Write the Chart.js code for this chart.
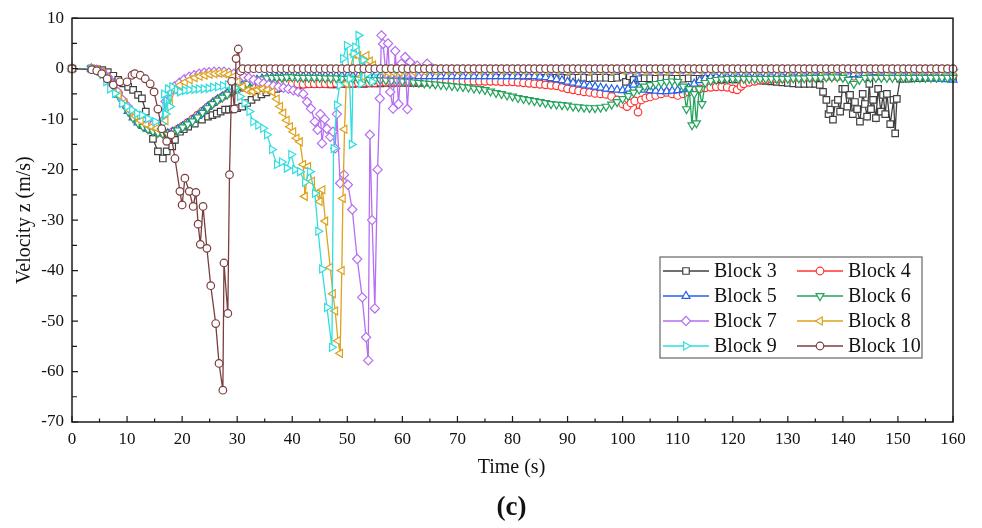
<!DOCTYPE html>
<html>
<head>
<meta charset="utf-8">
<script src="https://cdn.jsdelivr.net/npm/chart.js@4.4.0/dist/chart.umd.min.js"></script>
<style>
  html, body { margin: 0; padding: 0; background: #fff; }
  #wrap { width: 982px; height: 528px; position: relative; }
</style>
</head>
<body>
<div id="wrap"><canvas id="velocityChart"></canvas></div>
<script>
// Velocity z of each block, [time (s), velocity (m/s)]
var block3 = [[0,0],[3.5,0],[4.5,-0.1],[5.5,-0.3],[6.5,-0.7],[7.5,-1.4],[8.4,-2.2],[9.3,-2.9],[10.2,-3.6],[11.1,-4.2],[12,-5.2],[12.7,-5.9],[13.4,-8.5],[14.1,-11.8],[14.7,-13.9],[15.6,-16.4],[16.5,-17.8],[17.2,-16.4],[18.2,-15.4],[18.7,-14.1],[19.6,-12.5],[20.3,-12],[21.1,-11.5],[22.3,-10.9],[23.6,-10.1],[24.7,-9.5],[25.5,-9.2],[26.3,-8.9],[27,-8.5],[27.8,-8.1],[28.5,-8.1],[29.2,-8],[30,-7.8],[30.9,-7.5],[31.8,-6.8],[32.6,-6.2],[33.5,-5.6],[34.4,-5.1],[35.3,-4.7],[36.2,-4.3],[37.1,-4],[38,-3.8],[39,-3.6],[40,-3.4],[41,-3.3],[42,-3.1],[43,-3],[44,-3],[45,-3],[46,-3],[47,-3.1],[48,-3.1],[49,-3],[50,-3],[51,-3],[52,-2.9],[53,-3],[54,-2.9],[55,-2.9],[56,-2.9],[57,-2.8],[58,-2.9],[59,-2.8],[60,-2.8],[61,-2.8],[62,-2.8],[63,-2.8],[64,-2.7],[65,-2.7],[66,-2.6],[67,-2.5],[68,-2.4],[69,-2.3],[70,-2.3],[71,-2.2],[72,-2.1],[73,-2],[74,-2],[75,-1.9],[76,-1.9],[77,-1.8],[78,-1.8],[79,-1.8],[80,-1.8],[81,-1.8],[82,-1.9],[83,-1.8],[84,-1.8],[85,-1.8],[86,-1.9],[87,-1.8],[88,-1.8],[89,-1.8],[90,-1.9],[91,-1.8],[92,-1.8],[93,-1.8],[94,-1.9],[95,-1.8],[96,-1.8],[97,-1.8],[98,-1.9],[99,-1.8],[100,-1.6],[100.6,-2.6],[101.3,-1.5],[102,-2.2],[103,-1.9],[104,-1.9],[105,-1.9],[106,-2],[107,-1.9],[108,-1.9],[109,-2],[110,-2],[111,-2],[112,-1.9],[113,-2],[114,-2],[115,-2],[116,-2],[117,-2],[118,-2.1],[119,-2],[120,-2.1],[121,-2.1],[122,-2.2],[123,-2.2],[124,-2.2],[125,-2.3],[126,-2.4],[127,-2.5],[128,-2.6],[129,-2.7],[130,-2.8],[131,-2.9],[132,-3],[133,-3],[134,-3],[135,-3],[135.8,-3.2],[136.4,-4.6],[137,-6.2],[137.4,-9],[137.7,-8.1],[138.2,-10.1],[138.6,-6.9],[139.1,-6.2],[139.5,-8.5],[139.9,-4],[140.4,-4],[140.8,-7.5],[141.3,-5.2],[141.8,-9],[142.2,-6.6],[142.6,-8],[143.1,-10.5],[143.6,-5],[144,-7],[144.4,-9.5],[144.8,-3],[145.1,-8],[145.5,-6.2],[146,-9.8],[146.4,-4],[146.9,-8.5],[147.3,-5.2],[147.7,-9],[148,-5],[148.6,-11],[149.2,-6.2],[149.5,-12.8],[149.8,-6],[150.4,-2],[151,-2],[152,-2],[153,-1.9],[154,-1.9],[155,-1.8],[156,-1.8],[157,-1.8],[158,-1.7],[159,-1.7],[160,-1.7]];

var block4 = [[0,0],[3.5,0],[4.5,-0.2],[5.5,-0.7],[6.5,-1.7],[7.5,-3.1],[8.4,-4.8],[9.3,-6.5],[10.2,-8],[11.1,-9.4],[12,-10.5],[12.9,-11.3],[13.8,-11.9],[14.7,-12.3],[15.6,-12.6],[16.5,-12.8],[17.4,-12.8],[18.3,-12.5],[19.2,-12],[20.1,-11.4],[21,-10.7],[21.9,-10],[22.8,-9.2],[23.7,-8.4],[24.6,-7.6],[25.5,-6.9],[26.4,-6.2],[27.3,-5.6],[28.2,-5],[29.1,-4.5],[30,-4.1],[31,-3.7],[32,-3.5],[33,-3.3],[34,-3.2],[35,-3.1],[36,-3],[37,-3],[38,-3],[39,-3],[40,-3],[41,-3],[42,-3.1],[43,-3],[44,-3],[45,-3],[46,-3],[47,-3],[48,-2.9],[49,-2.9],[50,-2.9],[51,-2.9],[52,-2.8],[53,-2.8],[54,-2.8],[55,-2.8],[56,-2.7],[57,-2.7],[58,-2.7],[59,-2.7],[60,-2.7],[61,-2.6],[62,-2.6],[63,-2.6],[64,-2.6],[65,-2.5],[66,-2.5],[67,-2.5],[68,-2.5],[69,-2.5],[70,-2.5],[71,-2.5],[72,-2.5],[73,-2.5],[74,-2.5],[75,-2.5],[76,-2.5],[77,-2.5],[78,-2.6],[79,-2.6],[80,-2.6],[81,-2.7],[82,-2.8],[83,-2.9],[84,-3],[85,-3.1],[86,-3.2],[87,-3.3],[88,-3.4],[89,-3.7],[90,-4],[91,-4.2],[92,-4.4],[93,-4.6],[94,-4.7],[95,-4.9],[96,-5],[97,-5.1],[98,-5.5],[99,-6.2],[100,-7],[100.8,-7.5],[101.5,-6.8],[102.2,-6.4],[102.8,-8.6],[103.4,-6.2],[104.2,-5.8],[105,-5.6],[106,-5.3],[107,-5],[108,-4.7],[109,-5],[110,-5.3],[111,-5],[112,-4.6],[113,-4.3],[114,-4],[115,-3.8],[116,-3.7],[117,-3.6],[118,-3.6],[119,-3.7],[120,-4],[120.8,-4.2],[121.5,-3.5],[122,-3],[123,-2.7],[124,-2.5],[125,-2.3],[126,-2.2],[127,-2.1],[128,-2],[129,-1.9],[130,-1.8],[131,-1.8],[132,-1.7],[133,-1.7],[134,-1.7],[135,-1.7],[136,-1.6],[137,-1.6],[138,-1.6],[139,-1.6],[140,-1.6],[141,-1.6],[142,-1.5],[143,-1.5],[144,-1.5],[145,-1.5],[146,-1.5],[147,-1.5],[148,-1.5],[149,-1.5],[150,-1.5],[151,-1.4],[152,-1.4],[153,-1.4],[154,-1.4],[155,-1.4],[156,-1.4],[157,-1.4],[158,-1.4],[159,-1.4],[160,-1.4]];

var block5 = [[0,0],[3.5,0],[4.5,-0.3],[5.5,-0.9],[6.5,-2],[7.5,-3.5],[8.4,-5.2],[9.3,-6.9],[10.2,-8.4],[11.1,-9.7],[12,-10.7],[12.9,-11.4],[13.8,-11.9],[14.7,-12.3],[15.6,-12.6],[16.5,-12.7],[17.4,-12.8],[18.3,-12.5],[19.2,-12],[20.1,-11.4],[21,-10.8],[21.9,-10.2],[22.8,-9.4],[23.7,-8.5],[24.6,-7.6],[25.5,-6.8],[26.4,-6.1],[27.3,-5.5],[28.2,-4.9],[29.1,-4.3],[30,-3.8],[30.9,-3.3],[31.8,-2.9],[32.7,-2.5],[33.6,-2.2],[34.5,-2],[35.4,-1.8],[36.3,-1.7],[37.2,-1.6],[38.1,-1.6],[39,-1.5],[40,-1.5],[41,-1.5],[42,-1.5],[43,-1.5],[44,-1.5],[45,-1.5],[46,-1.4],[47,-1.4],[48,-1.4],[49,-1.4],[50,-1.4],[51,-1.4],[52,-1.4],[53,-1.4],[54,-1.4],[55,-1.4],[56,-1.4],[57,-1.4],[58,-1.4],[59,-1.4],[60,-1.4],[61,-1.4],[62,-1.4],[63,-1.5],[64,-1.5],[65,-1.5],[66,-1.5],[67,-1.5],[68,-1.5],[69,-1.5],[70,-1.5],[71,-1.5],[72,-1.5],[73,-1.5],[74,-1.5],[75,-1.5],[76,-1.5],[77,-1.5],[78,-1.5],[79,-1.5],[80,-1.5],[81,-1.5],[82,-1.5],[83,-1.5],[84,-1.5],[85,-1.6],[86,-1.7],[87,-1.9],[88,-2.1],[89,-2.3],[90,-2.6],[91,-2.8],[92,-3],[93,-3.2],[94,-3.4],[95,-3.6],[96,-3.8],[97,-4],[98,-4.1],[99,-4.2],[100,-4.3],[101,-4],[102,-3.2],[102.5,-1],[103,-3.8],[104,-4.2],[105,-4.3],[106,-4.4],[107,-4.5],[108,-4.5],[109,-4.4],[110,-4.3],[111,-4.1],[112,-3.8],[113,-3],[114,-2.3],[115,-1.9],[116,-1.7],[117,-1.6],[118,-1.6],[119,-1.6],[120,-1.6],[121,-1.6],[122,-1.6],[123,-1.6],[124,-1.6],[125,-1.6],[126,-1.5],[127,-1.5],[128,-1.5],[129,-1.5],[130,-1.5],[131,-1.5],[132,-1.4],[133,-1.4],[134,-1.4],[135,-1.4],[136,-1.3],[137,-1.3],[138,-1.3],[139,-1.3],[140,-1.3],[141,-1.2],[142,-1.1],[143,-1],[144,-0.9],[145,-0.8],[146,-0.7],[147,-0.8],[148,-1],[149,-1.1],[150,-1.2],[151,-1.3],[152,-1.4],[153,-1.5],[154,-1.6],[155,-1.7],[156,-1.8],[157,-1.9],[158,-2],[159,-2.1],[160,-2.2]];

var block6 = [[0,0],[3.5,0],[4.5,-0.3],[5.5,-0.9],[6.5,-2.1],[7.5,-3.6],[8.4,-5.3],[9.3,-7],[10.2,-8.5],[11.1,-9.8],[12,-10.8],[12.9,-11.5],[13.8,-12],[14.7,-12.4],[15.6,-12.7],[16.5,-12.9],[17.4,-13.1],[18.3,-12.8],[19.2,-12.2],[20.1,-11.6],[21,-11],[21.9,-10.4],[22.8,-9.6],[23.7,-8.7],[24.6,-7.8],[25.5,-7],[26.4,-6.3],[27.3,-5.7],[28.2,-5.1],[29.1,-4.5],[30,-4],[30.9,-3.5],[31.8,-3],[32.7,-2.6],[33.6,-2.3],[34.5,-2.1],[35.4,-1.9],[36.3,-1.8],[37.2,-1.8],[38.1,-1.8],[39,-1.7],[40,-1.7],[41,-1.8],[42,-1.8],[43,-1.8],[44,-1.8],[45,-1.8],[46,-1.9],[47,-1.9],[48,-1.9],[49,-2],[50,-2],[51,-2],[52,-2.1],[53,-2.1],[54,-2.2],[55,-2.2],[56,-2.3],[57,-2.3],[58,-2.4],[59,-2.4],[60,-2.5],[61,-2.6],[62,-2.7],[63,-2.8],[64,-2.9],[65,-3],[66,-3.1],[67,-3.2],[68,-3.3],[69,-3.4],[70,-3.5],[71,-3.6],[72,-3.7],[73,-3.9],[74,-4],[75,-4.2],[76,-4.5],[77,-4.8],[78,-5],[79,-5.3],[80,-5.5],[81,-5.8],[82,-6],[83,-6.2],[84,-6.4],[85,-6.6],[86,-6.8],[87,-7],[88,-7.1],[89,-7.2],[90,-7.3],[91,-7.5],[92,-7.6],[93,-7.7],[94,-7.8],[95,-7.8],[96,-7.7],[97,-7.5],[98,-7.1],[99,-6.6],[100,-6],[101,-5.4],[102,-4.7],[103,-4.1],[104,-3.5],[105,-3.2],[106,-3],[107,-2.8],[108,-2.6],[109,-2.5],[110,-2.6],[111,-3.5],[111.6,-8],[112.1,-4],[112.6,-11.2],[113,-5],[113.4,-10.8],[113.9,-4],[114.4,-7],[115,-2.8],[116,-2.4],[117,-2.2],[118,-2.1],[119,-2],[120,-2],[121,-2],[122,-2],[123,-2],[124,-2],[125,-2],[126,-2],[127,-2],[128,-2],[129,-2],[130,-2],[131,-1.9],[132,-1.9],[133,-1.9],[134,-1.8],[135,-1.8],[136,-1.8],[137,-1.7],[138,-1.7],[139,-1.7],[140,-1.8],[141,-2.2],[142,-3],[143,-2.2],[144,-1.8],[145,-1.8],[146,-1.8],[147,-1.8],[148,-1.8],[149,-1.8],[150,-1.8],[151,-1.8],[152,-1.8],[153,-1.8],[154,-1.8],[155,-1.8],[156,-1.8],[157,-1.8],[158,-1.8],[159,-1.8],[160,-1.8]];

var block7 = [[0,0],[3.5,0],[4.5,-0.2],[5.5,-0.7],[6.5,-1.7],[7.4,-3],[8.3,-4.6],[9.2,-6.2],[10.1,-7.5],[11,-8.6],[11.9,-9.5],[12.8,-10.2],[13.7,-10.8],[14.6,-11.2],[15.5,-11.3],[16.3,-10.5],[17,-6.5],[17.8,-4.5],[18.6,-3.5],[19.5,-2.8],[20.4,-2.1],[21.3,-1.6],[22.2,-1.3],[23.1,-1],[24,-0.8],[24.9,-0.7],[25.8,-0.6],[26.7,-0.6],[27.6,-0.6],[28.5,-0.8],[29.4,-1],[30.3,-1.3],[31.2,-1.6],[32.1,-1.8],[33,-2.2],[33.9,-2.6],[34.8,-2.9],[35.7,-3.2],[36.6,-3.4],[37.5,-3.6],[38.4,-3.8],[39.3,-4],[40.2,-4.3],[41.1,-4.6],[42,-5],[42.7,-6.6],[43.4,-7.9],[44.1,-10.5],[44.6,-12.1],[45.1,-9],[45.4,-14.8],[45.9,-10],[46.3,-11.9],[46.9,-13.5],[47.4,-12.5],[47.8,-15.8],[48.1,-9],[48.7,-22.7],[49.4,-21],[50.1,-23],[50.9,-27.9],[51.8,-37.7],[52.7,-45.3],[53.4,-53.2],[53.8,-57.8],[54.1,-13.1],[54.5,-30],[55,-47.5],[55.5,-20],[55.9,-5.9],[56.2,6.6],[56.5,4.9],[57,-1],[57.4,5],[57.8,-4.6],[58.3,-7.9],[58.7,3.5],[59.3,-7],[59.8,1],[60.5,2.3],[60.9,-8],[61.4,1.3],[62,-1],[62.7,0.6],[63.5,-0.5],[64.5,1],[65.5,0],[67,-0.2],[69,-0.2],[71,-0.2],[73,-0.2],[75,-0.2],[77,-0.2],[79,-0.2],[81,-0.2],[83,-0.2],[85,-0.2],[87,-0.2],[89,-0.2],[91,-0.2],[93,-0.2],[95,-0.2],[97,-0.2],[99,-0.2],[101,-0.2],[103,-0.2],[105,-0.2],[107,-0.2],[109,-0.2],[111,-0.2],[113,-0.2],[115,-0.2],[117,-0.2],[119,-0.2],[121,-0.2],[123,-0.2],[125,-0.2],[127,-0.2],[129,-0.2],[131,-0.2],[133,-0.2],[135,-0.2],[137,-0.2],[139,-0.2],[141,-0.2],[143,-0.2],[145,-0.2],[147,-0.2],[149,-0.2],[151,-0.2],[153,-0.2],[155,-0.2],[157,-0.2],[159,-0.2],[160,-0.2]];

var block8 = [[0,0],[3.5,0],[4.5,-0.2],[5.5,-0.8],[6.5,-2],[7.5,-3.5],[8.5,-5.2],[9.5,-6.8],[10.5,-8.2],[11.5,-9.4],[12.5,-10.3],[13.5,-11],[14.5,-11.5],[15.4,-11.8],[16.3,-11.9],[17,-10.3],[17.8,-7],[18.7,-4.2],[19.6,-3.3],[20.5,-2.7],[21.4,-2.2],[22.3,-1.8],[23.2,-1.5],[24.1,-1.3],[25,-1.1],[25.9,-1],[26.8,-0.9],[27.7,-1],[28.5,-1.2],[29.3,-1.6],[30.1,-2.6],[31,-3.6],[31.9,-4.3],[32.8,-4.5],[33.7,-4.2],[34.6,-4],[35.5,-4.2],[36.4,-4.6],[37.2,-6],[37.8,-7.5],[38.4,-8.8],[39,-10.2],[39.6,-11.5],[40.2,-12.5],[40.8,-13.8],[41.4,-14.5],[42,-19],[42.3,-25.3],[42.9,-19.4],[43.6,-22.3],[44.5,-24.7],[45,-26.3],[45.5,-24],[46,-30.2],[46.9,-39.4],[47.4,-44.6],[47.8,-48],[48.3,-53.9],[48.7,-56.4],[49,-40],[49.2,-25.7],[49.5,-12],[49.8,-3],[50.5,0],[51.2,2.8],[52,2.6],[52.7,-1.5],[53.5,2.6],[54.1,1.5],[54.7,0.7],[55.5,-0.3],[56.5,-0.6],[57.5,-0.8],[58.5,-0.8],[59.5,-0.7],[60.5,-0.6],[62,-0.6],[64,-0.5],[66,-0.5],[68,-0.4],[70,-0.4],[72,-0.4],[74,-0.4],[76,-0.4],[78,-0.4],[80,-0.4],[82,-0.4],[84,-0.4],[86,-0.4],[88,-0.4],[90,-0.4],[92,-0.4],[94,-0.4],[96,-0.4],[98,-0.4],[100,-0.4],[102,-0.4],[104,-0.4],[106,-0.4],[108,-0.4],[110,-0.4],[112,-0.4],[114,-0.4],[116,-0.3],[118,-0.3],[120,-0.3],[122,-0.3],[124,-0.3],[126,-0.3],[128,-0.3],[130,-0.3],[132,-0.3],[134,-0.3],[136,-0.3],[138,-0.3],[140,-0.3],[142,-0.3],[144,-0.3],[146,-0.3],[148,-0.3],[150,-0.3],[152,-0.3],[154,-0.3],[156,-0.3],[158,-0.3],[160,-0.3]];

var block9 = [[0,0],[3.5,0],[4.5,-0.3],[5.5,-1.2],[6.2,-2.6],[6.9,-4],[7.8,-4.9],[9.1,-6.9],[10,-7.5],[10.9,-8.2],[11.8,-8.9],[12.7,-9.2],[13.8,-9.9],[15.1,-10.5],[16.3,-10.9],[16.7,-5],[17,-9],[17.4,-4],[17.8,-7.5],[18.2,-3.6],[19,-4.2],[19.6,-4.6],[20.5,-4.3],[21.3,-4.2],[22.2,-4.1],[23,-4],[23.9,-4],[24.8,-3.9],[25.6,-3.7],[26.5,-3.6],[27.4,-3.4],[28.3,-3.2],[29,-3.4],[29.6,-3.8],[30.5,-5.5],[31.3,-6.8],[32.2,-8.5],[32.9,-10.5],[33.8,-11.2],[34.7,-11.8],[35.4,-13.1],[36.3,-16],[37.2,-19],[38.1,-18.5],[39,-19.7],[39.8,-17],[40.5,-20],[41.4,-20.4],[42.3,-22.5],[43.2,-20.4],[44.1,-24.7],[44.7,-32.2],[45.4,-39.7],[46.3,-47.3],[47.2,-55.2],[47.5,-15.8],[48.1,-7.2],[48.6,-3.3],[49.2,2],[49.9,4.6],[50.4,-2],[50.8,-15],[51.1,3],[51.4,4.3],[52,6.6],[52.5,-3],[52.9,1.7],[53.6,-1],[54.5,-2.6],[55.4,-0.6],[56.3,-0.3],[57.2,0],[59,-0.2],[61,-0.2],[63,-0.2],[65,-0.2],[67,-0.2],[69,-0.2],[71,-0.2],[73,-0.2],[75,-0.2],[77,-0.2],[79,-0.2],[81,-0.2],[83,-0.2],[85,-0.2],[87,-0.2],[89,-0.2],[91,-0.2],[93,-0.2],[95,-0.2],[97,-0.2],[99,-0.2],[101,-0.2],[103,-0.2],[105,-0.2],[107,-0.2],[109,-0.2],[111,-0.2],[113,-0.2],[115,-0.2],[117,-0.2],[119,-0.2],[121,-0.2],[123,-0.2],[125,-0.2],[127,-0.2],[129,-0.2],[131,-0.2],[133,-0.2],[135,-0.2],[137,-0.2],[139,-0.2],[141,-0.2],[143,-0.2],[145,-0.2],[147,-0.2],[149,-0.2],[151,-0.2],[153,-0.2],[155,-0.2],[157,-0.2],[159,-0.2],[160,-0.2]];

var block10 = [[0,0],[3.6,-0.2],[4.5,-0.4],[5.4,-1],[6.4,-2],[7.5,-3.2],[8.7,-2.6],[10,-2.6],[10.9,-1.3],[11.4,-1],[12.4,-1.3],[13.3,-2],[14.2,-3],[14.9,-4.6],[15.6,-8],[16.3,-11.9],[17.2,-14.4],[18,-13.1],[18.7,-17.8],[19.6,-24.3],[20,-27],[20.5,-21.7],[21.3,-24.3],[22,-27.3],[22.5,-24.5],[22.9,-30.8],[23.3,-34.8],[23.8,-27.3],[24.5,-35.6],[25.2,-43],[26.1,-50.5],[26.7,-58.4],[27.4,-63.7],[27.6,-38.5],[28.3,-48.5],[28.6,-21],[29,-2.5],[29.5,-8],[29.8,2],[30.2,3.9],[30.6,-0.5],[31,0],[32,0],[33,0],[34,0],[35,0],[36,0],[37,0],[38,0],[39,0],[40,0],[41,0],[42,0],[43,0],[44,0],[45,0],[46,0],[47,0],[48,0],[49,0],[50,0],[51,0],[52,0],[53,0],[54,0],[55,0],[56,0],[57,0],[58,0],[59,0],[60,0],[61,0],[62,0],[63,0],[64,0],[65,0],[66,0],[67,0],[68,0],[69,0],[70,0],[71,0],[72,0],[73,0],[74,0],[75,0],[76,0],[77,0],[78,0],[79,0],[80,0],[81,0],[82,0],[83,0],[84,0],[85,0],[86,0],[87,0],[88,0],[89,0],[90,0],[91,0],[92,0],[93,0],[94,0],[95,0],[96,0],[97,0],[98,0],[99,0],[100,0],[101,0],[102,0],[103,0],[104,0],[105,0],[106,0],[107,0],[108,0],[109,0],[110,0],[111,0],[112,0],[113,0],[114,0],[115,0],[116,0],[117,0],[118,0],[119,0],[120,0],[121,0],[122,0],[123,0],[124,0],[125,0],[126,0],[127,0],[128,0],[129,0],[130,0],[131,0],[132,0],[133,0],[134,0],[135,0],[136,0],[137,0],[138,0],[139,0],[140,0],[141,0],[142,0],[143,0],[144,0],[145,0],[146,0],[147,0],[148,0],[149,0],[150,0],[151,0],[152,0],[153,0],[154,0],[155,0],[156,0],[157,0],[158,0],[159,0],[160,0]];

var xMajorTicks = [0, 10, 20, 30, 40, 50, 60, 70, 80, 90, 100, 110, 120, 130, 140, 150, 160];
var yMajorTicks = [10, 0, -10, -20, -30, -40, -50, -60, -70];

var serif = "'Liberation Serif', 'Times New Roman', serif";

var seriesList = [
    { label: 'Block 3', data: block3, color: '#404040', style: 'rect', radius: 4.6, rotation: 0 },
    { label: 'Block 4', data: block4, color: '#ff3535', style: 'circle', radius: 3.8, rotation: 0 },
    { label: 'Block 5', data: block5, color: '#2461ea', style: 'triangle', radius: 4.6, rotation: 0 },
    { label: 'Block 6', data: block6, color: '#23a35b', style: 'triangle', radius: 4.6, rotation: 180 },
    { label: 'Block 7', data: block7, color: '#b66ef2', style: 'rectRot', radius: 4.6, rotation: 0 },
    { label: 'Block 8', data: block8, color: '#dea21c', style: 'triangle', radius: 4.6, rotation: 270 },
    { label: 'Block 9', data: block9, color: '#2fdede', style: 'triangle', radius: 4.6, rotation: 90 },
    { label: 'Block 10', data: block10, color: '#7b3d3d', style: 'circle', radius: 3.8, rotation: 0 }
];

var datasets = seriesList.map(function (s, i) {
    return {
        label: s.label,
        data: s.data.map(function (p) { return { x: p[0], y: p[1] }; }),
        borderColor: s.color,
        backgroundColor: '#ffffff',
        borderWidth: 1.3,
        pointStyle: s.style,
        pointRadius: s.radius,
        pointRotation: s.rotation,
        pointBorderColor: s.color,
        pointBackgroundColor: '#ffffff',
        pointBorderWidth: 1.2,
        tension: 0,
        order: seriesList.length - i, // last block drawn on top
        clip: { left: 8, right: 8, top: 0, bottom: 0 }
    };
});

function drawMarker(ctx, s, x, y) {
    if (Chart.helpers && Chart.helpers.drawPoint) {
        Chart.helpers.drawPoint(ctx, { pointStyle: s.style, rotation: s.rotation, radius: s.radius, borderWidth: 1.2 }, x, y);
        return;
    }
    ctx.beginPath();
    ctx.arc(x, y, s.radius, 0, Math.PI * 2);
    ctx.fill();
    ctx.stroke();
}

// frame, inward ticks, axis titles, legend box
var decorPlugin = {
    id: 'decor',
    afterDraw: function (chart) {
        var ctx = chart.ctx;
        var a = chart.chartArea;
        var xs = chart.scales.x;
        var ys = chart.scales.y;
        ctx.save();

        ctx.strokeStyle = '#1a1a1a';
        ctx.lineWidth = 1.5;
        ctx.strokeRect(a.left, a.top, a.right - a.left, a.bottom - a.top);

        ctx.lineWidth = 1.2;
        ctx.beginPath();
        xs.ticks.forEach(function (t) {
            var px = xs.getPixelForValue(t.value);
            var len = xMajorTicks.indexOf(t.value) >= 0 ? 6 : 3.5;
            ctx.moveTo(px, a.bottom);
            ctx.lineTo(px, a.bottom - len);
        });
        ys.ticks.forEach(function (t) {
            var py = ys.getPixelForValue(t.value);
            var len = yMajorTicks.indexOf(t.value) >= 0 ? 6 : 5;
            ctx.moveTo(a.left, py);
            ctx.lineTo(a.left + len, py);
        });
        ctx.stroke();

        ctx.fillStyle = '#111';
        ctx.textAlign = 'center';
        ctx.textBaseline = 'middle';
        ctx.font = '20px ' + serif;
        ctx.fillText('Time (s)', (a.left + a.right) / 2 - 1, 468);
        ctx.save();
        ctx.translate(25, (a.top + a.bottom) / 2);
        ctx.rotate(-Math.PI / 2);
        ctx.fillText('Velocity z (m/s)', 0, 0);
        ctx.restore();
        ctx.font = 'bold 27px ' + serif;
        ctx.fillText('(c)', (a.left + a.right) / 2 - 1, 508);

        // legend
        var bx = 660, by = 257, bw = 262, bh = 101;
        ctx.fillStyle = '#ffffff';
        ctx.fillRect(bx, by, bw, bh);
        ctx.strokeStyle = '#666';
        ctx.lineWidth = 1.2;
        ctx.strokeRect(bx, by, bw, bh);
        ctx.font = '20px ' + serif;
        ctx.textAlign = 'left';
        seriesList.forEach(function (s, i) {
            var col = i % 2, row = Math.floor(i / 2);
            var x0 = col === 0 ? 663 : 797;
            var y0 = 271 + row * 25;
            ctx.strokeStyle = s.color;
            ctx.lineWidth = 1.5;
            ctx.beginPath();
            ctx.moveTo(x0, y0);
            ctx.lineTo(x0 + 46, y0);
            ctx.stroke();
            ctx.fillStyle = '#ffffff';
            ctx.lineWidth = 1.2;
            drawMarker(ctx, s, x0 + 23, y0);
            ctx.fillStyle = '#111';
            ctx.fillText(s.label, x0 + 51, y0 + 1);
        });
        ctx.restore();
    }
};

var ctxVelocity = document.getElementById('velocityChart').getContext('2d');
var chartVelocity = new Chart(ctxVelocity, {
    type: 'line',
    data: { datasets: datasets },
    options: {
        responsive: true,
        maintainAspectRatio: false,
        animation: false,
        layout: { padding: { left: 0, right: 29, top: 16, bottom: 0 } },
        plugins: {
            legend: { display: false },
            tooltip: { enabled: false }
        },
        scales: {
            x: {
                type: 'linear',
                min: 0,
                max: 160,
                afterFit: function (s) { s.height = 106; },
                grid: { display: false, drawTicks: false },
                border: { display: false },
                ticks: {
                    stepSize: 5,
                    autoSkip: false,
                    maxRotation: 0,
                    padding: 7,
                    color: '#111',
                    font: { family: serif, size: 17 },
                    callback: function (v) { return xMajorTicks.indexOf(v) >= 0 ? String(v) : ''; }
                }
            },
            y: {
                type: 'linear',
                min: -70,
                max: 10,
                afterFit: function (s) { s.width = 72; },
                grid: { display: false, drawTicks: false },
                border: { display: false },
                ticks: {
                    stepSize: 5,
                    autoSkip: false,
                    padding: 8,
                    color: '#111',
                    font: { family: serif, size: 17 },
                    callback: function (v) { return yMajorTicks.indexOf(v) >= 0 ? String(v) : ''; }
                }
            }
        }
    },
    plugins: [decorPlugin]
});
</script>
</body>
</html>
